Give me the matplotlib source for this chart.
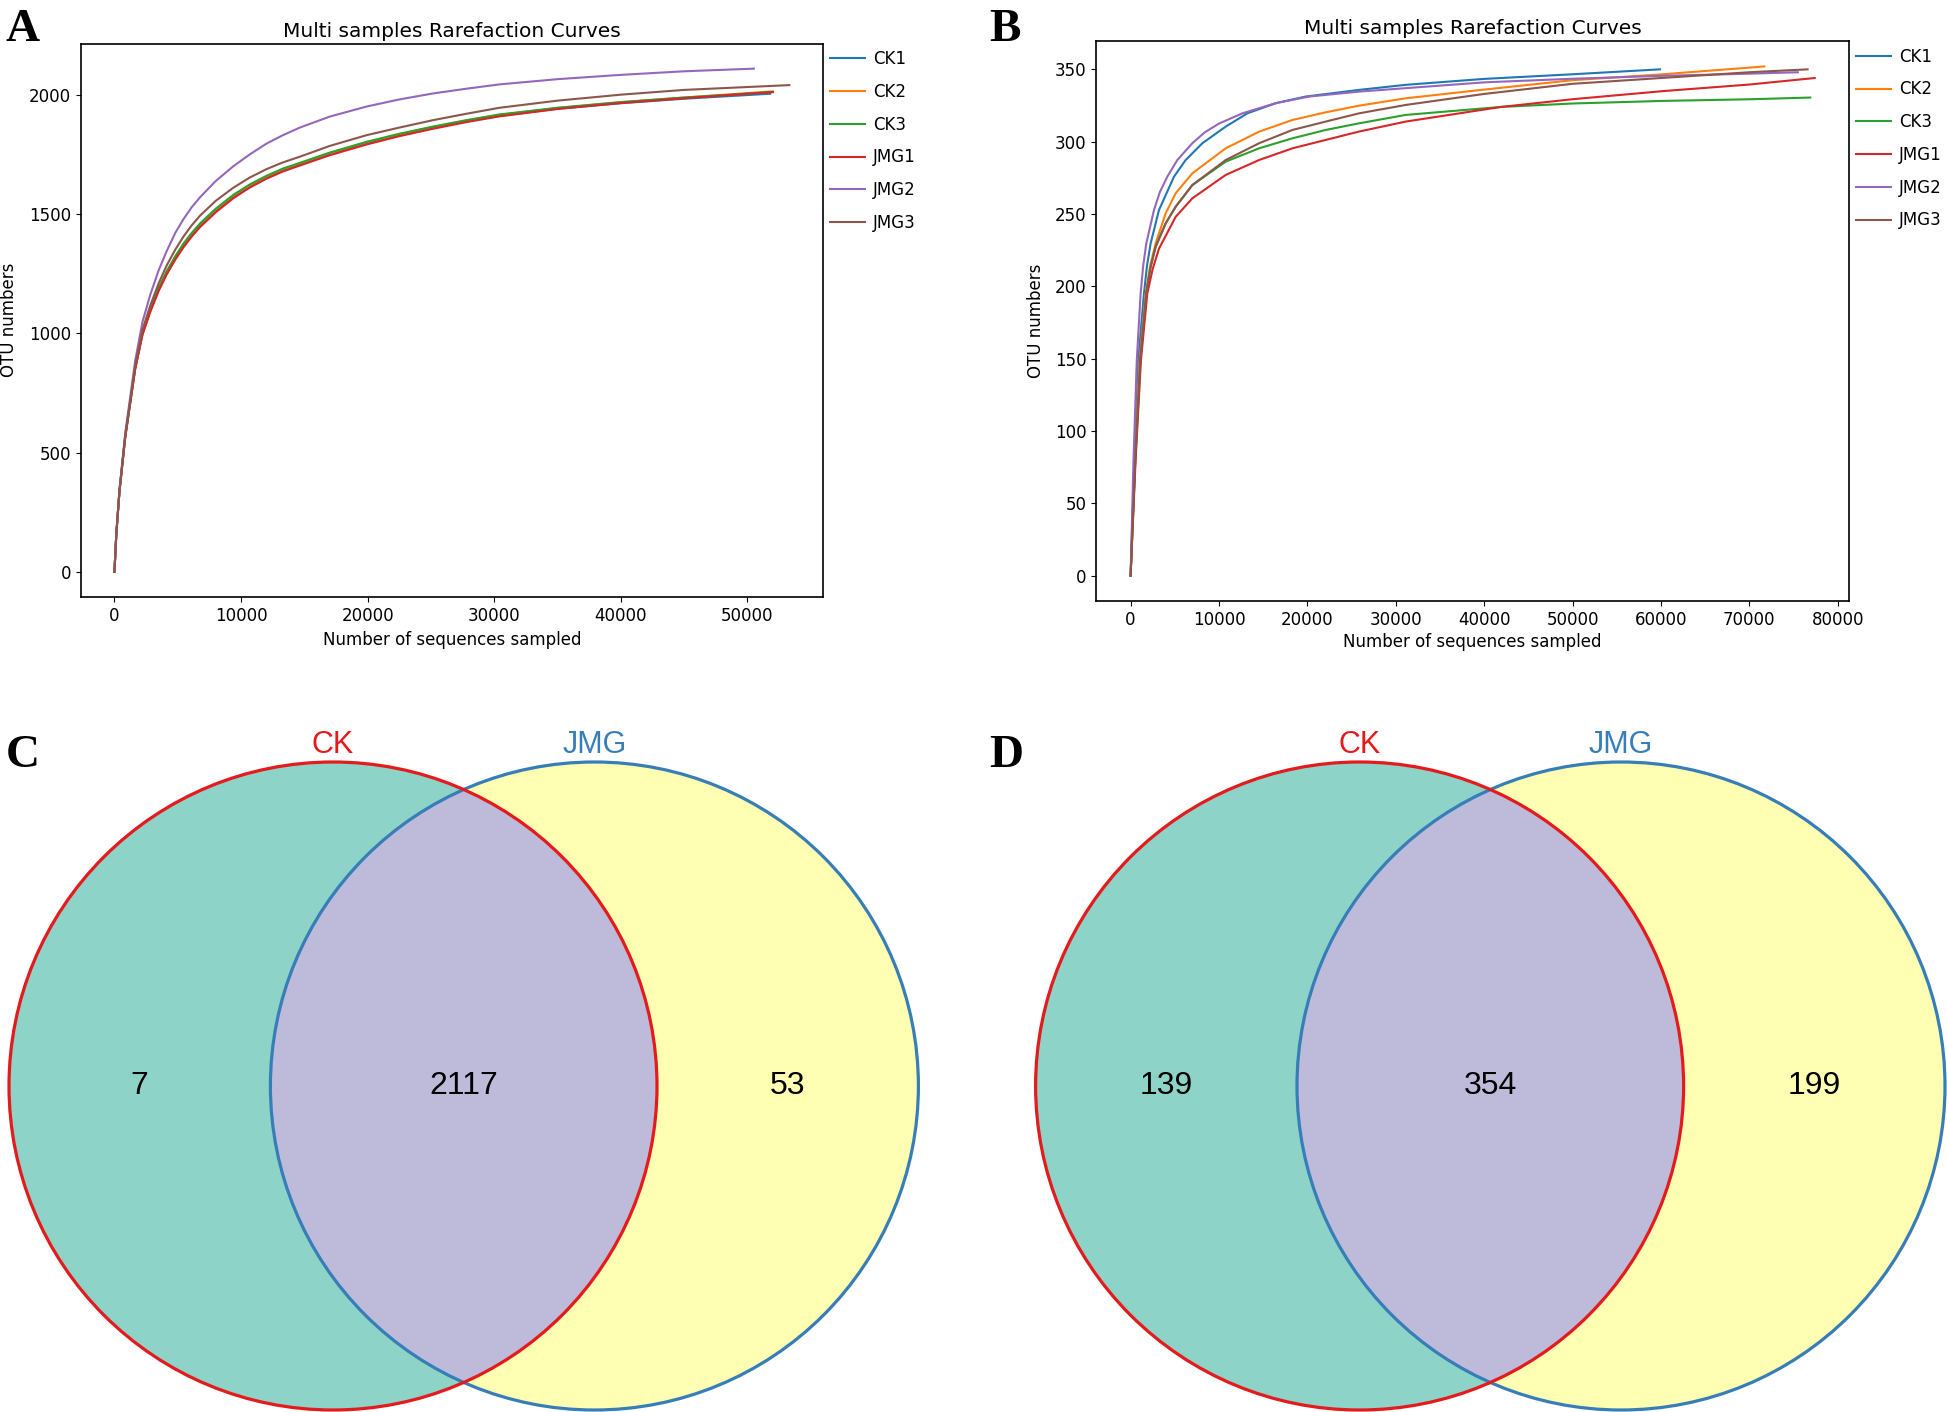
import matplotlib
matplotlib.use('Agg')
import matplotlib.pyplot as plt
from matplotlib.patches import Circle

plt.rcParams['font.family'] = ['DejaVu Sans']

samples = ['CK1', 'CK2', 'CK3', 'JMG1', 'JMG2', 'JMG3']
colors = ['#1f77b4', '#ff7f0e', '#2ca02c', '#d62728', '#9467bd', '#8c564b']

# ---------------- Panel A rarefaction data ----------------
A_CK1_x = [0, 150, 400, 850, 1640, 2217, 2821, 3500, 4134, 4800, 5448, 6100, 6762, 8000, 9389, 10700, 12016, 13300, 14643, 17000, 19897, 22500, 25150, 27800, 30404, 35000, 40000, 45000, 51800]
A_CK1_y = [0, 160, 339, 564, 853, 998, 1093, 1184, 1253, 1315, 1367, 1412, 1452, 1514, 1572, 1617, 1653, 1683, 1708, 1751, 1796, 1830, 1861, 1888, 1911, 1941, 1964, 1983, 2004]
A_CK2_x = [0, 150, 400, 850, 1640, 2217, 2821, 3500, 4134, 4800, 5448, 6100, 6762, 8000, 9389, 10700, 12016, 13300, 14643, 17000, 19897, 22500, 25150, 27800, 30404, 35000, 40000, 45000, 52000]
A_CK2_y = [0, 160, 340, 565, 855, 1000, 1096, 1188, 1258, 1320, 1372, 1418, 1457, 1519, 1577, 1621, 1657, 1688, 1712, 1755, 1800, 1834, 1865, 1892, 1915, 1944, 1968, 1988, 2014]
A_CK3_x = [0, 150, 400, 850, 1640, 2217, 2821, 3500, 4134, 4800, 5448, 6100, 6762, 8000, 9389, 10700, 12016, 13300, 14643, 17000, 19897, 22500, 25150, 27800, 30404, 35000, 40000, 45000, 52000]
A_CK3_y = [0, 160, 340, 566, 856, 1002, 1098, 1190, 1260, 1322, 1375, 1420, 1460, 1522, 1580, 1624, 1660, 1690, 1714, 1757, 1802, 1836, 1866, 1893, 1917, 1945, 1969, 1988, 2011]
A_JMG1_x = [0, 150, 400, 850, 1640, 2217, 2821, 3500, 4134, 4800, 5448, 6100, 6762, 8000, 9389, 10700, 12016, 13300, 14643, 17000, 19897, 22500, 25150, 27800, 30404, 35000, 40000, 45000, 52000]
A_JMG1_y = [0, 160, 338, 563, 850, 994, 1088, 1178, 1247, 1308, 1360, 1405, 1445, 1507, 1566, 1611, 1648, 1678, 1703, 1746, 1791, 1826, 1857, 1885, 1909, 1940, 1965, 1985, 2011]
A_JMG2_x = [0, 150, 400, 850, 1640, 2217, 2821, 3500, 4134, 4800, 5448, 6100, 6762, 8000, 9389, 10700, 12016, 13300, 14643, 17000, 19897, 22500, 25150, 27800, 30404, 35000, 40000, 45000, 50500]
A_JMG2_y = [0, 163, 345, 580, 885, 1048, 1160, 1265, 1345, 1420, 1478, 1528, 1570, 1638, 1700, 1750, 1795, 1830, 1862, 1908, 1950, 1980, 2005, 2025, 2043, 2065, 2083, 2098, 2109]
A_JMG3_x = [0, 150, 400, 850, 1640, 2217, 2821, 3500, 4134, 4800, 5448, 6100, 6762, 8000, 9389, 10700, 12016, 13300, 14643, 17000, 19897, 22500, 25150, 27800, 30404, 35000, 40000, 45000, 53300]
A_JMG3_y = [0, 161, 342, 570, 865, 1015, 1115, 1210, 1285, 1350, 1405, 1452, 1493, 1555, 1610, 1653, 1688, 1716, 1740, 1785, 1830, 1862, 1893, 1920, 1945, 1975, 2000, 2020, 2040]

# ---------------- Panel B rarefaction data ----------------
B_CK1_x = [0, 420, 868, 1510, 1850, 2265, 3209, 4908, 6229, 8117, 10759, 13213, 16421, 19819, 25859, 31144, 40000, 50000, 59900]
B_CK1_y = [0, 80, 148.8, 195, 214, 229.6, 252.7, 275.8, 287.3, 298.9, 310.4, 319.6, 326.6, 331.2, 335.8, 339.3, 343.4, 346.6, 350]
B_CK2_x = [0, 490, 1020, 1699, 2200, 2831, 3964, 5096, 6984, 10759, 14534, 18309, 22084, 25859, 31144, 40000, 50000, 60000, 71700]
B_CK2_y = [0, 80, 148.8, 195, 214, 229.6, 250.4, 264.3, 278.1, 295.4, 306.9, 315, 320.3, 324.9, 330, 336, 342.5, 346.5, 352]
B_CK3_x = [0, 530, 1095, 1774, 2250, 2831, 3964, 5096, 6984, 10759, 14534, 18309, 22084, 25859, 31144, 41900, 50090, 60330, 70000, 76900]
B_CK3_y = [0, 80, 148.8, 195, 213, 227.3, 243.5, 255, 270, 286.2, 295.4, 302.3, 308.1, 312.7, 318.5, 324, 326.4, 328.2, 329.3, 330.5]
B_JMG1_x = [0, 566, 1170, 1888, 2500, 3209, 5096, 6984, 10759, 14534, 18309, 22084, 25859, 31144, 41900, 50090, 60330, 70000, 77400]
B_JMG1_y = [0, 80, 148.8, 195, 212, 226, 248, 260.8, 277, 287.3, 295.4, 301.2, 307, 313.9, 324, 329.4, 335, 339.5, 344]
B_JMG2_x = [0, 330, 700, 1133, 1420, 1774, 2643, 3300, 4153, 5285, 6984, 8400, 10004, 12646, 16421, 20196, 25859, 31145, 40000, 50000, 60000, 70000, 75500]
B_JMG2_y = [0, 80, 148.8, 195, 214, 229.6, 252.7, 265, 275.8, 287.3, 298.9, 306.5, 312.5, 319.6, 326.6, 331.2, 334.6, 337, 341, 343.5, 345.5, 347, 348]
B_JMG3_x = [0, 530, 1095, 1774, 2250, 2831, 3964, 5096, 6984, 10759, 14534, 18309, 22084, 25859, 31144, 40000, 50000, 60000, 70000, 76600]
B_JMG3_y = [0, 80, 148.8, 195, 213, 227.3, 243.5, 255, 270, 287.3, 298.9, 308.1, 313.9, 319.6, 325.4, 333, 340, 344, 348, 350]

# ---------------- Venn data ----------------
venn_sets = ['CK', 'JMG']
venn_C_counts = [7, 2117, 53]     # CK only, shared, JMG only
venn_D_counts = [139, 354, 199]

A_series = [(A_CK1_x, A_CK1_y), (A_CK2_x, A_CK2_y), (A_CK3_x, A_CK3_y),
            (A_JMG1_x, A_JMG1_y), (A_JMG2_x, A_JMG2_y), (A_JMG3_x, A_JMG3_y)]
B_series = [(B_CK1_x, B_CK1_y), (B_CK2_x, B_CK2_y), (B_CK3_x, B_CK3_y),
            (B_JMG1_x, B_JMG1_y), (B_JMG2_x, B_JMG2_y), (B_JMG3_x, B_JMG3_y)]

W, H = 1947, 1412
fig = plt.figure(figsize=(W / 100, H / 100), dpi=100)

# ---------------- Venn diagrams (background axes in pixel coords) ----------------
axv = fig.add_axes([0, 0, 1, 1])
axv.set_xlim(0, W)
axv.set_ylim(H, 0)
axv.axis('off')

TEAL, YEL, LAV = '#8dd3c7', '#ffffb3', '#bebada'
RED, BLUE = '#e41a1c', '#377eb8'
R = 324
cy = 1086


def venn(cx1, cx2, counts):
    axv.add_patch(Circle((cx1, cy), R, facecolor=TEAL, edgecolor='none', zorder=1))
    axv.add_patch(Circle((cx2, cy), R, facecolor=YEL, edgecolor='none', zorder=1))
    clip = Circle((cx1, cy), R, transform=axv.transData)
    ov = Circle((cx2, cy), R, facecolor=LAV, edgecolor='none', zorder=2)
    axv.add_patch(ov)
    ov.set_clip_path(clip)
    axv.add_patch(Circle((cx2, cy), R, facecolor='none', edgecolor=BLUE, lw=2.3, zorder=3))
    axv.add_patch(Circle((cx1, cy), R, facecolor='none', edgecolor=RED, lw=2.3, zorder=4))
    axv.text(cx1, 745, venn_sets[0], color=RED, fontsize=22, ha='center', va='center',
             family='Liberation Sans', zorder=5)
    axv.text(cx2, 745, venn_sets[1], color=BLUE, fontsize=22, ha='center', va='center',
             family='Liberation Sans', zorder=5)
    xs = [(cx1 - R + cx2 - R) / 2, (cx1 + cx2) / 2, (cx1 + R + cx2 + R) / 2]
    for xx, n in zip(xs, counts):
        axv.text(xx, cy, str(n), fontsize=23, ha='center', va='center',
                 family='Liberation Sans', zorder=5)


venn(333, 594.4, venn_C_counts)
venn(1359.6, 1621, venn_D_counts)

# ---------------- Rarefaction panels ----------------
FS = 12


def rare(rect, series, ylabx, xlaby):
    ax = fig.add_axes(rect)
    for (x, y), c, lab in zip(series, colors, samples):
        ax.plot(x, y, color=c, lw=1.5, label=lab)
    ax.set_title('Multi samples Rarefaction Curves', fontsize=14.5, pad=4.8)
    ax.set_xlabel('Number of sequences sampled', fontsize=FS)
    ax.set_ylabel('OTU numbers', fontsize=FS)
    ax.yaxis.set_label_coords(ylabx, 0.5)
    ax.xaxis.set_label_coords(0.5, xlaby)
    ax.tick_params(labelsize=FS)
    for s in ax.spines.values():
        s.set_linewidth(1.2)
    ax.legend(loc='upper left', bbox_to_anchor=(1.0, 1.0), frameon=False,
              fontsize=FS, handlelength=2.1, handletextpad=0.5, labelspacing=0.885,
              borderaxespad=0.0)
    return ax


axA = rare([80.7 / W, 1 - 597 / H, 742.3 / W, 553.5 / H], A_series, -0.0845, -0.0614)
axB = rare([1096.4 / W, 1 - 601 / H, 752.5 / W, 560 / H], B_series, -0.068, -0.058)

# ---------------- Panel letters ----------------
for lab, px, py in [('A', 6, 41), ('B', 989.6, 41), ('C', 6, 767), ('D', 989.6, 767)]:
    fig.text(px / W, 1 - py / H, lab, fontsize=34, fontweight='bold',
             family='Liberation Serif', ha='left', va='baseline')

fig.savefig('out.png', dpi=100)
